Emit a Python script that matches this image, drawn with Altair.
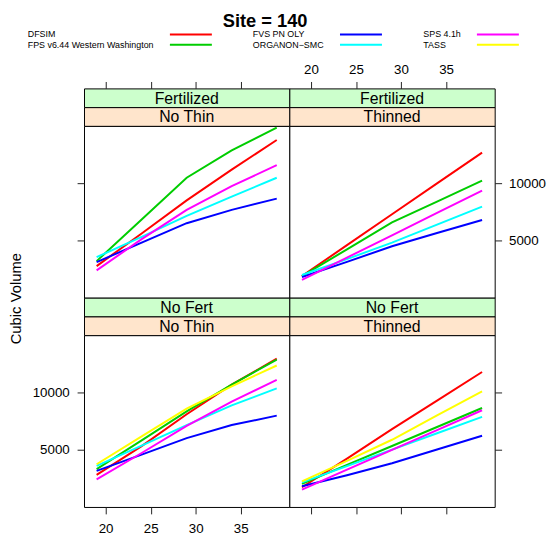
import altair as alt
import pandas as pd

ages = [19, 24, 29, 34, 39]
models = ["DFSIM", "FPS v6.44 Western Washington", "FVS PN OLY",
          "ORGANON\u2212SMC", "SPS 4.1h", "TASS"]
colors = ["#FF0000", "#00CD00", "#0000FF", "#00FFFF", "#FF00FF", "#FFFF00"]

# Fertilized / No Thin
fert_nothin = {
    "DFSIM": [2735, 5600, 8500, 11200, 13800],
    "FPS v6.44 Western Washington": [3170, 6830, 10490, 12900, 14880],
    "FVS PN OLY": [3080, 4800, 6500, 7670, 8660],
    "ORGANON\u2212SMC": [3520, 5300, 7150, 8830, 10490],
    "SPS 4.1h": [2360, 5100, 7670, 9760, 11590],
}
# Fertilized / Thinned
fert_thin = {
    "DFSIM": [1860, 4570, 7280, 9990, 12700],
    "FPS v6.44 Western Washington": [1860, 4200, 6570, 8400, 10230],
    "FVS PN OLY": [1780, 3100, 4480, 5640, 6780],
    "ORGANON\u2212SMC": [1950, 3350, 4800, 6380, 7960],
    "SPS 4.1h": [1520, 3480, 5440, 7400, 9360],
}
# No Fert / No Thin
nofert_nothin = {
    "DFSIM": [2780, 5300, 8100, 10700, 12980],
    "FPS v6.44 Western Washington": [3280, 5800, 8350, 10700, 12900],
    "FVS PN OLY": [3130, 4550, 6000, 7150, 7980],
    "ORGANON\u2212SMC": [3560, 5350, 7150, 8880, 10370],
    "SPS 4.1h": [2380, 4700, 7070, 9200, 11120],
    "TASS": [3710, 6150, 8590, 10550, 12380],
}
# No Fert / Thinned
nofert_thin = {
    "DFSIM": [1690, 4200, 6800, 9300, 11810],
    "FPS v6.44 Western Washington": [1980, 3650, 5310, 6980, 8650],
    "FVS PN OLY": [1780, 2750, 3800, 5000, 6210],
    "ORGANON\u2212SMC": [2120, 3550, 4990, 6430, 7870],
    "SPS 4.1h": [1490, 3230, 4970, 6710, 8450],
    "TASS": [2210, 4000, 5860, 8000, 10110],
}

x_ticks = [20, 25, 30, 35]
y_ticks = [5000, 10000]
title_text = "Site = 140"
ylab_text = "Cubic Volume"

FONT = "Liberation Sans"
PW, PH, SH = 208, 174, 19
xscale = alt.Scale(domain=[17.6, 40.4], nice=False, zero=False)
yscale = alt.Scale(domain=[-40, 15040], nice=False, zero=False)
cscale = alt.Scale(domain=models, range=colors)
FERT_FILL = "#CCFFCC"
THIN_FILL = "#FFE5CC"


def view(fill):
    return alt.ViewBackground(fill=fill, stroke="black", strokeWidth=1,
                              strokeOpacity=1)


def make_df(d):
    rows = []
    for m in models:
        if m in d:
            for a, v in zip(ages, d[m]):
                rows.append({"model": m, "age": a, "vol": v})
    return pd.DataFrame(rows)


def axis(orient, labels, values, pad=7, size=13.5):
    return alt.Axis(orient=orient, labels=labels, values=values, format="d",
                    domain=False, grid=False, ticks=True, title=None,
                    labelPadding=pad, labelFontSize=size, tickSize=7,
                    tickColor="#222222", labelColor="black", labelFont=FONT,
                    tickWidth=1)


def strip_text(label, xaxis):
    df = pd.DataFrame({"x": [29.0], "label": [label]})
    base = alt.Chart(df).mark_text(font=FONT, fontSize=16, baseline="middle",
                                   align="center", color="black")
    if xaxis is None:
        return base.encode(x=alt.value(PW / 2), y=alt.value(SH / 2 + 1),
                           text="label:N")
    return base.encode(x=alt.X("x:Q", scale=xscale, axis=xaxis),
                       y=alt.value(SH / 2 + 1), text="label:N")


def strip(label, fill, xaxis):
    return strip_text(label, xaxis).properties(width=PW, height=SH,
                                               view=view(fill))


def panel(d, xaxis, yaxis):
    df = make_df(d)
    return alt.Chart(df).mark_line(strokeWidth=2).encode(
        x=alt.X("age:Q", scale=xscale, axis=xaxis),
        y=alt.Y("vol:Q", scale=yscale, axis=yaxis),
        color=alt.Color("model:N", scale=cscale, legend=None),
    ).properties(width=PW, height=PH, view=view("white"))


# ---- key, title and y label, hung on the top-left strip ----
leg_rows = [{"model": m, "col": i // 2, "row": i % 2} for i, m in enumerate(models)]
leg_df = pd.DataFrame(leg_rows)
leg_y = alt.Y("row:Q", scale=alt.Scale(domain=[0, 1], range=[-54.7, -44.3],
                                       nice=False, zero=False), axis=None)
leg_text = alt.Chart(leg_df).mark_text(
    align="left", baseline="middle", font=FONT, fontSize=9, color="black"
).encode(
    x=alt.X("col:Q", scale=alt.Scale(domain=[0, 1, 2], range=[-57, 171, 343.7],
                                     nice=False, zero=False), axis=None),
    y=leg_y, text="model:N")
leg_line = alt.Chart(leg_df).mark_rule(strokeWidth=2, x2Offset=42.5).encode(
    x=alt.X("col:Q", scale=alt.Scale(domain=[0, 1, 2], range=[87, 259.3, 398],
                                     nice=False, zero=False), axis=None),
    x2="col:Q", y=leg_y,
    color=alt.Color("model:N", scale=cscale, legend=None))
title = alt.Chart(pd.DataFrame({"t": [title_text]})).mark_text(
    font=FONT, fontSize=18.5, fontWeight="bold", baseline="middle",
    align="center", color="black").encode(
    text="t:N", x=alt.value(183.5), y=alt.value(-68.5))
ylab = alt.Chart(pd.DataFrame({"t": [ylab_text]})).mark_text(
    angle=270, font=FONT, fontSize=15, baseline="middle", align="center",
    color="black").encode(text="t:N", x=alt.value(-69), y=alt.value(213))

tl_strip1 = alt.layer(
    strip_text("Fertilized", axis("top", False, x_ticks)),
    title, leg_text, leg_line, ylab,
).resolve_scale(x="independent", y="independent").properties(
    width=PW, height=SH, view=view(FERT_FILL))

cells = [
    tl_strip1,
    strip("Fertilized", FERT_FILL, axis("top", True, x_ticks, 5)),
    strip("No Thin", THIN_FILL, None),
    strip("Thinned", THIN_FILL, None),
    panel(fert_nothin, None, axis("left", False, y_ticks)),
    panel(fert_thin, None, axis("right", True, y_ticks, 7)),
    strip("No Fert", FERT_FILL, None),
    strip("No Fert", FERT_FILL, None),
    strip("No Thin", THIN_FILL, None),
    strip("Thinned", THIN_FILL, None),
    panel(nofert_nothin, axis("bottom", True, x_ticks, 8),
          axis("left", True, y_ticks, 8)),
    panel(nofert_thin, axis("bottom", False, x_ticks), axis("right", False, y_ticks)),
]

chart = alt.concat(*cells, columns=2, spacing=0, bounds="flush").properties(
    padding=0).configure_view(strokeOpacity=0)

chart.save("out.html", embed_options={"renderer": "svg", "actions": False})
